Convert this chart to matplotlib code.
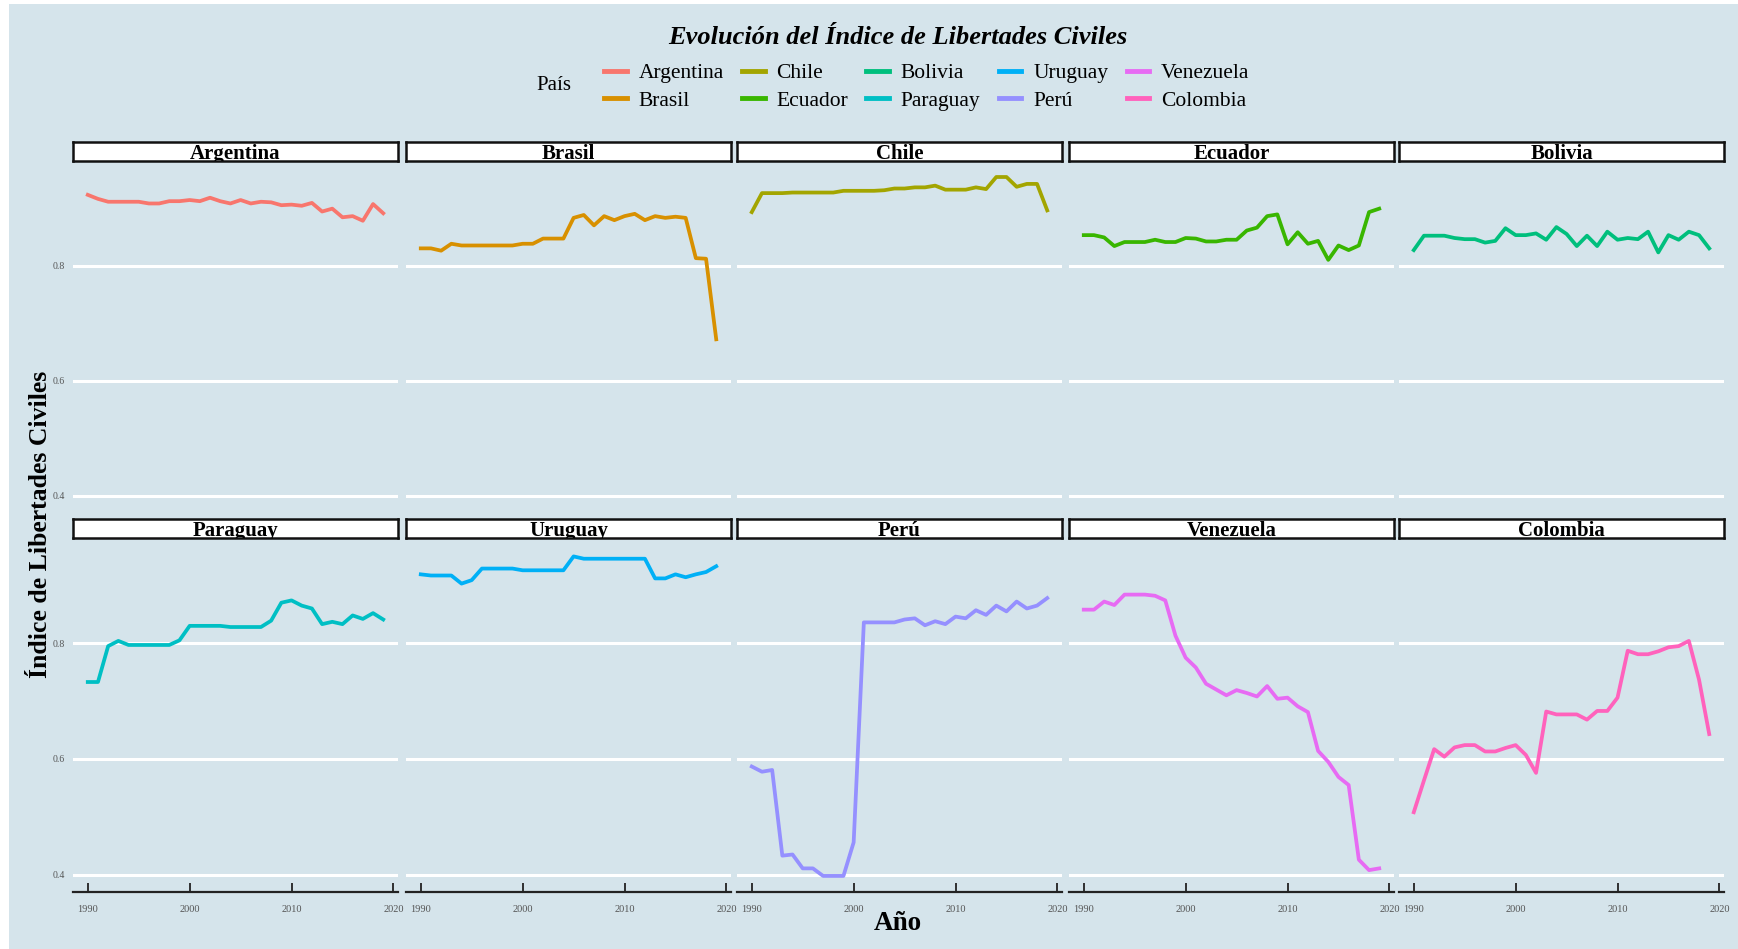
import numpy as np
import matplotlib
matplotlib.use("Agg")
import matplotlib.pyplot as plt
from matplotlib.lines import Line2D
from matplotlib.patches import Rectangle

plt.rcParams['font.family'] = ['Liberation Serif', 'DejaVu Serif']

years = np.arange(1990, 2020)

argentina = [0.923, 0.916, 0.911, 0.911, 0.911, 0.911, 0.908, 0.908, 0.912, 0.912,
             0.914, 0.912, 0.918, 0.912, 0.908, 0.914, 0.908, 0.911, 0.910, 0.905,
             0.906, 0.904, 0.909, 0.894, 0.899, 0.884, 0.886, 0.878, 0.907, 0.891]
brasil = [0.830, 0.830, 0.826, 0.838, 0.835, 0.835, 0.835, 0.835, 0.835, 0.835,
          0.838, 0.838, 0.847, 0.847, 0.847, 0.883, 0.888, 0.870, 0.886, 0.879,
          0.886, 0.890, 0.879, 0.886, 0.883, 0.885, 0.883, 0.813, 0.812, 0.672]
chile = [0.893, 0.926, 0.926, 0.926, 0.927, 0.927, 0.927, 0.927, 0.927, 0.930,
         0.930, 0.930, 0.930, 0.931, 0.934, 0.934, 0.936, 0.936, 0.939, 0.932,
         0.932, 0.932, 0.936, 0.933, 0.954, 0.954, 0.937, 0.942, 0.942, 0.896]
ecuador = [0.853, 0.853, 0.849, 0.834, 0.841, 0.841, 0.841, 0.845, 0.841, 0.841,
           0.848, 0.847, 0.842, 0.842, 0.845, 0.845, 0.861, 0.866, 0.886, 0.889,
           0.837, 0.858, 0.838, 0.843, 0.810, 0.835, 0.827, 0.835, 0.893, 0.899]
bolivia = [0.827, 0.852, 0.852, 0.852, 0.848, 0.846, 0.846, 0.840, 0.843, 0.865,
           0.853, 0.853, 0.856, 0.845, 0.867, 0.855, 0.834, 0.852, 0.834, 0.859,
           0.845, 0.848, 0.846, 0.859, 0.823, 0.853, 0.845, 0.859, 0.853, 0.830]
paraguay = [0.733, 0.733, 0.795, 0.804, 0.797, 0.797, 0.797, 0.797, 0.797, 0.805,
            0.830, 0.830, 0.830, 0.830, 0.828, 0.828, 0.828, 0.828, 0.839, 0.870,
            0.874, 0.865, 0.860, 0.833, 0.837, 0.833, 0.848, 0.842, 0.852, 0.841]
uruguay = [0.919, 0.917, 0.917, 0.917, 0.903, 0.909, 0.929, 0.929, 0.929, 0.929,
           0.926, 0.926, 0.926, 0.926, 0.926, 0.950, 0.946, 0.946, 0.946, 0.946,
           0.946, 0.946, 0.946, 0.912, 0.912, 0.919, 0.914, 0.919, 0.923, 0.933]
peru = [0.587, 0.578, 0.581, 0.433, 0.435, 0.411, 0.411, 0.398, 0.398, 0.398,
        0.456, 0.836, 0.836, 0.836, 0.836, 0.841, 0.843, 0.831, 0.838, 0.833,
        0.846, 0.843, 0.857, 0.849, 0.865, 0.855, 0.872, 0.860, 0.865, 0.878]
venezuela = [0.858, 0.858, 0.872, 0.866, 0.884, 0.884, 0.884, 0.882, 0.874, 0.813,
             0.775, 0.758, 0.730, 0.720, 0.710, 0.719, 0.714, 0.708, 0.726, 0.704,
             0.706, 0.691, 0.681, 0.614, 0.595, 0.569, 0.555, 0.426, 0.408, 0.411]
colombia = [0.508, 0.563, 0.617, 0.604, 0.620, 0.624, 0.624, 0.613, 0.613, 0.619,
            0.624, 0.607, 0.576, 0.682, 0.677, 0.677, 0.677, 0.668, 0.683, 0.683,
            0.706, 0.787, 0.781, 0.781, 0.786, 0.793, 0.795, 0.804, 0.737, 0.643]

# legend / colour order (ggplot hue palette)
paises = ['Argentina', 'Brasil', 'Chile', 'Ecuador', 'Bolivia',
          'Paraguay', 'Uruguay', 'Perú', 'Venezuela', 'Colombia']
series = [argentina, brasil, chile, ecuador, bolivia,
          paraguay, uruguay, peru, venezuela, colombia]
colores = ['#F8766D', '#D89000', '#A3A500', '#39B600', '#00BF7D',
           '#00BFC4', '#00B0F6', '#9590FF', '#E76BF3', '#FF62BC']

# facet order (row by row)
panel_order = ['Argentina', 'Brasil', 'Chile', 'Ecuador', 'Bolivia',
               'Paraguay', 'Uruguay', 'Perú', 'Venezuela', 'Colombia']

bg = '#d5e4eb'
W, H = 1738, 949
fig = plt.figure(figsize=(W / 100, H / 100), dpi=100, facecolor='white')
fig.patches.append(Rectangle((9 / W, 0), 1 - 9 / W, 1 - 4 / H, transform=fig.transFigure,
                             facecolor=bg, edgecolor='none', zorder=-10))

col_left = [73, 406, 737, 1069, 1399]
pw = 325
rows = [(161, 513), (538, 892)]  # panel top, bottom in px
strip_h = 19

ref = None
for k, name in enumerate(panel_order):
    r, c = divmod(k, 5)
    top, bot = rows[r]
    x0 = col_left[c]
    ax = fig.add_axes([x0 / W, 1 - bot / H, pw / W, (bot - top) / H],
                      sharex=ref, sharey=ref)
    if ref is None:
        ref = ax
    i = paises.index(name)
    ax.plot(years, series[i], color=colores[i], lw=2.7, solid_joinstyle='round')
    ax.set_facecolor(bg)
    for s in ['top', 'right', 'left']:
        ax.spines[s].set_visible(False)
    ax.yaxis.grid(True, color='white', lw=2.2)
    ax.set_axisbelow(True)
    ax.set_yticks([0.4, 0.6, 0.8])
    ax.set_xticks([1990, 2000, 2010, 2020])
    ax.tick_params(axis='y', length=0, pad=6, labelsize=7, labelcolor='#555555')
    if c != 0:
        ax.tick_params(axis='y', labelleft=False)
    if r == 1:
        ax.spines['bottom'].set_color('#222222')
        ax.spines['bottom'].set_linewidth(1.6)
        ax.tick_params(axis='x', direction='in', length=6.5, width=1.3, color='#222222',
                       pad=9, labelsize=7.5, labelcolor='#555555')
    else:
        ax.spines['bottom'].set_visible(False)
        ax.tick_params(axis='x', length=0, labelbottom=False)

    # strip
    sax = fig.add_axes([x0 / W, 1 - top / H, pw / W, strip_h / H])
    sax.set_facecolor('white')
    sax.set_xticks([])
    sax.set_yticks([])
    for s in sax.spines.values():
        s.set_linewidth(1.8)
        s.set_color('#111111')
    t = sax.text(0.5, 0.08, name, ha='center', va='baseline', fontsize=15,
                 fontweight='bold', transform=sax.transAxes)
    t.set_clip_on(True)

fig.text(898 / W, 1 - 37 / H, 'Evolución del Índice de Libertades Civiles',
         ha='center', va='center', fontsize=19, fontstyle='italic', fontweight='bold')
fig.text(554 / W, 1 - 86 / H, 'País', ha='center', va='center', fontsize=15)

handles = [Line2D([], [], color=colores[i], lw=3.5) for i in range(len(paises))]
fig.legend(handles, paises, ncol=5, loc='center left',
           bbox_to_anchor=(604 / W, 1 - 87 / H), frameon=False, fontsize=15.5,
           handlelength=1.05, handletextpad=0.55, columnspacing=0.85,
           labelspacing=0.35, borderpad=0, borderaxespad=0)

fig.text(41 / W, 1 - 524 / H, 'Índice de Libertades Civiles', rotation=90,
         ha='center', va='center', fontsize=18.5, fontweight='bold')
fig.text(898 / W, 1 - 923 / H, 'Año', ha='center', va='center',
         fontsize=19.5, fontweight='bold')

fig.savefig('out.png', dpi=100, facecolor='white')
